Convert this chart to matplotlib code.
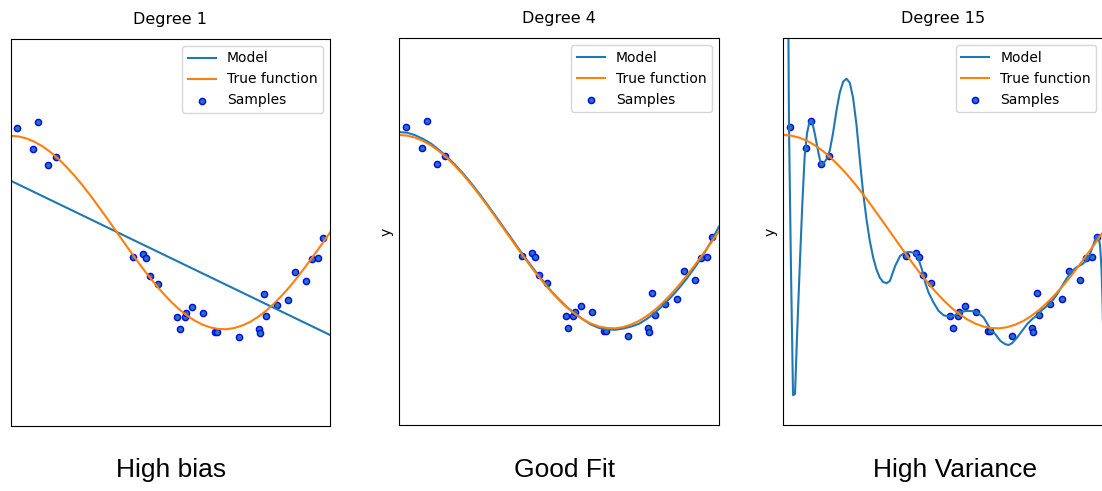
import numpy as np
import matplotlib
matplotlib.use('Agg')
import matplotlib.pyplot as plt

# sample points
x_samples = [0.020, 0.071, 0.087, 0.118, 0.143, 0.383, 0.415, 0.424, 0.438, 0.461,
             0.522, 0.529, 0.545, 0.549, 0.568, 0.603, 0.640, 0.646, 0.715, 0.778,
             0.781, 0.792, 0.799, 0.833, 0.870, 0.892, 0.926, 0.945, 0.964, 0.979]
y_samples = [1.084, 0.863, 1.146, 0.698, 0.780, -0.257, -0.222, -0.266, -0.452, -0.535,
             -0.870, -0.994, -0.877, -0.835, -0.773, -0.836, -1.032, -1.025, -1.075, -1.001,
             -1.034, -0.639, -0.858, -0.751, -0.701, -0.408, -0.501, -0.274, -0.266, -0.060]

# true function, read on a 0.025 grid
x_grid = [0.000, 0.025, 0.050, 0.075, 0.100, 0.125, 0.150, 0.175, 0.200, 0.225,
          0.250, 0.275, 0.300, 0.325, 0.350, 0.375, 0.400, 0.425, 0.450, 0.475,
          0.500, 0.525, 0.550, 0.575, 0.600, 0.625, 0.650, 0.675, 0.700, 0.725,
          0.750, 0.775, 0.800, 0.825, 0.850, 0.875, 0.900, 0.925, 0.950, 0.975,
          1.000]
y_true = [1.000, 0.993, 0.972, 0.938, 0.891, 0.831, 0.760, 0.678, 0.588, 0.489,
          0.383, 0.271, 0.156, 0.039, -0.078, -0.195, -0.309, -0.419, -0.522, -0.619,
          -0.707, -0.786, -0.853, -0.908, -0.951, -0.981, -0.997, -1.000, -0.988, -0.962,
          -0.924, -0.872, -0.809, -0.734, -0.649, -0.556, -0.454, -0.346, -0.233, -0.118,
          0.000]

# degree 1 model (straight line)
x_deg1 = [0.0, 1.0]
y_deg1 = [0.536, -1.059]

# degree 4 model on the same grid
y_deg4 = [1.030, 1.023, 0.997, 0.958, 0.909, 0.843, 0.772, 0.690, 0.600, 0.501,
          0.395, 0.283, 0.168, 0.051, -0.066, -0.183, -0.297, -0.407, -0.510, -0.614,
          -0.702, -0.781, -0.848, -0.908, -0.961, -0.996, -1.012, -1.015, -1.003, -0.982,
          -0.954, -0.902, -0.839, -0.764, -0.679, -0.586, -0.484, -0.370, -0.248, -0.108,
          0.050]

# degree 15 model, traced
x_deg15 = [0.010, 0.0157, 0.0178, 0.024, 0.0304, 0.0366, 0.0429, 0.051, 0.0596, 0.0668,
           0.0742, 0.0825, 0.0888, 0.098, 0.1086, 0.116, 0.1242, 0.1347, 0.145, 0.1555,
           0.166, 0.1764, 0.187, 0.1973, 0.2077, 0.218, 0.2286, 0.239, 0.2494, 0.26,
           0.2703, 0.281, 0.291, 0.3016, 0.312, 0.3225, 0.333, 0.3496, 0.365, 0.3811,
           0.3966, 0.4122, 0.4227, 0.4331, 0.4435, 0.454, 0.4696, 0.4853, 0.501, 0.5166,
           0.5323, 0.548, 0.5635, 0.579, 0.5948, 0.6104, 0.626, 0.6386, 0.647, 0.6626,
           0.6783, 0.694, 0.7044, 0.7148, 0.7305, 0.7461, 0.7617, 0.7774, 0.793, 0.8087,
           0.8243, 0.84, 0.8556, 0.8713, 0.887, 0.9026, 0.918, 0.934, 0.9495, 0.96,
           0.9705, 0.979, 0.985, 0.990, 0.9945, 0.9977, 1.0]
y_deg15 = [4.0, 2.2, 1.086, -0.39, -1.69, -1.68, -1.08, -0.39, 0.30, 0.78,
           1.02, 1.145, 1.155, 1.02, 0.835, 0.72, 0.697, 0.749, 0.835, 1.02,
           1.248, 1.437, 1.551, 1.582, 1.541, 1.386, 1.11, 0.749, 0.403, 0.128,
           -0.096, -0.269, -0.389, -0.476, -0.52, -0.534, -0.51, -0.355, -0.251, -0.217,
           -0.21, -0.224, -0.285, -0.389, -0.527, -0.631, -0.734, -0.82, -0.865, -0.879,
           -0.872, -0.844, -0.824, -0.82, -0.824, -0.844, -0.889, -0.958, -1.01, -1.061,
           -1.13, -1.165, -1.172, -1.154, -1.096, -1.027, -0.958, -0.906, -0.865, -0.81,
           -0.768, -0.717, -0.648, -0.562, -0.476, -0.406, -0.365, -0.337, -0.293, -0.217,
           -0.12, -0.044, -0.044, -0.148, -0.389, -0.734, -1.1]

degrees = [1, 4, 15]
verdicts = ['High bias', 'Good Fit', 'High Variance']
models = [(x_deg1, y_deg1), (x_grid, y_deg4), (x_deg15, y_deg15)]

W, H = 1102, 491
fig = plt.figure(figsize=(W / 100, H / 100), dpi=100)

# axes boxes in pixels: left, top, width, height
boxes = [(10.5, 39.0, 319.5, 387.0), (399.3, 38.3, 319.5, 386.7), (783.3, 38.3, 320.0, 386.7)]
text_x = [171, 565, 955]

for i in range(3):
    l, t, w, h = boxes[i]
    ax = fig.add_axes([l / W, (H - t - h) / H, w / W, h / H])
    mx, my = models[i]
    ax.plot(mx, my, label='Model')
    ax.plot(x_grid, y_true, label='True function')
    ax.scatter(x_samples, y_samples, edgecolor='b', s=20, label='Samples')
    ax.set_xlim(0, 1)
    ax.set_ylim(-2, 2)
    ax.set_xticks(())
    ax.set_yticks(())
    if i > 0:
        ax.set_ylabel('y')
    ax.legend(loc='upper right')
    ax.set_title('Degree {}'.format(degrees[i]), fontsize=11.5, pad=11)
    fig.text(text_x[i] / W, (H - 470) / H, verdicts[i], ha='center', va='center',
             fontsize=19, family='Liberation Sans')

fig.savefig('out.png', dpi=100)
